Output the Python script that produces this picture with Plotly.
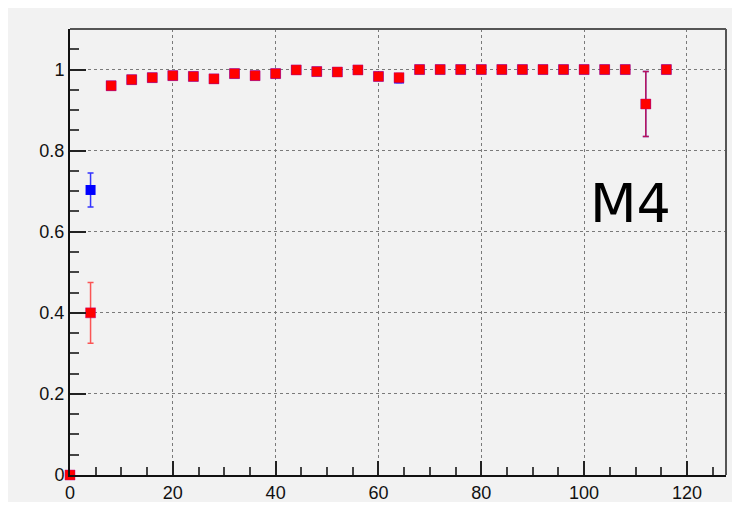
import plotly.graph_objects as go

# data
x_vals = [0, 4, 8, 12, 16, 20, 24, 28, 32, 36, 40, 44, 48, 52, 56, 60, 64,
          68, 72, 76, 80, 84, 88, 92, 96, 100, 104, 108, 112, 116]
red_y = [0.0, 0.40, 0.960, 0.975, 0.980, 0.985, 0.983, 0.977, 0.990, 0.985,
         0.990, 0.999, 0.995, 0.994, 0.999, 0.983, 0.980,
         1.0, 1.0, 1.0, 1.0, 1.0, 1.0, 1.0, 1.0, 1.0, 1.0, 1.0, 0.915, 1.0]
red_err = [0, 0.075, 0, 0, 0, 0, 0, 0, 0, 0, 0, 0, 0, 0, 0, 0, 0.01,
           0, 0, 0, 0, 0, 0, 0, 0, 0, 0, 0, 0.08, 0]
blue_y = [0.0, 0.703, 0.960, 0.975, 0.980, 0.985, 0.983, 0.977, 0.990, 0.985,
          0.990, 0.999, 0.995, 0.994, 0.999, 0.983, 0.978,
          1.0, 1.0, 1.0, 1.0, 1.0, 1.0, 1.0, 1.0, 1.0, 1.0, 1.0, 0.915, 1.0]
blue_err = [0, 0.042, 0, 0, 0, 0, 0, 0, 0, 0, 0, 0, 0, 0, 0, 0, 0.01,
            0, 0, 0, 0, 0, 0, 0, 0, 0, 0, 0, 0.08, 0]
x_ticks = [0, 20, 40, 60, 80, 100, 120]
y_ticks = [0, 0.2, 0.4, 0.6, 0.8, 1]
y_tick_text = ["0", "0.2", "0.4", "0.6", "0.8", "1"]
label_text = "M4"

fig = go.Figure()
fig.add_trace(go.Scatter(
    x=x_vals, y=blue_y, mode="markers",
    marker=dict(symbol="square", size=10, color="#0000ff"),
    error_y=dict(type="data", array=blue_err, visible=True,
                 color="#3333ff", thickness=1.5, width=3),
    cliponaxis=False, showlegend=False))
fig.add_trace(go.Scatter(
    x=x_vals, y=red_y, mode="markers",
    marker=dict(symbol="square", size=10, color="#ff0000",
                line=dict(color="rgba(190,0,130,0.45)", width=1)),
    error_y=dict(type="data", array=red_err, visible=True,
                 color="rgba(255,0,0,0.65)", thickness=1.5, width=3),
    cliponaxis=False, showlegend=False))

fig.add_annotation(x=109, y=0.67, xref="x", yref="y", text=label_text,
                   showarrow=False,
                   font=dict(family="DejaVu Sans", size=54, color="black"))

# top / right frame
fig.add_shape(type="line", xref="paper", yref="paper", x0=0, x1=1, y0=1, y1=1,
              line=dict(color="#555555", width=2))
fig.add_shape(type="line", xref="paper", yref="paper", x0=1, x1=1, y0=0, y1=1,
              line=dict(color="#555555", width=2))

axis_font = dict(family="Liberation Sans, Arial, sans-serif", size=18, color="#111111")
fig.update_xaxes(range=[0, 127.6], tickvals=x_ticks, ticks="inside", ticklen=14,
                 tickwidth=1.5, tickcolor="#222222", automargin=False,
                 showline=True, linecolor="#111111", linewidth=2,
                 showgrid=True, gridcolor="#7a7a7a", griddash="dot", gridwidth=1,
                 zeroline=False, tickfont=axis_font,
                 minor=dict(dtick=5, ticks="inside", ticklen=8,
                            tickcolor="#444444", showgrid=False))
fig.update_yaxes(range=[0, 1.1], tickvals=y_ticks, ticktext=y_tick_text,
                 ticks="inside", ticklen=16, automargin=False,
                 tickwidth=1.5, tickcolor="#222222",
                 showline=True, linecolor="#111111", linewidth=2,
                 showgrid=True, gridcolor="#7a7a7a", griddash="dot", gridwidth=1,
                 zeroline=False, tickfont=axis_font,
                 minor=dict(dtick=0.05, ticks="inside", ticklen=9,
                            tickcolor="#444444", showgrid=False))

fig.update_layout(width=732, height=494,
                  margin=dict(l=62, r=14, t=21, b=27),
                  paper_bgcolor="#f2f2f2", plot_bgcolor="#f2f2f2")

fig.write_html("out.html")
